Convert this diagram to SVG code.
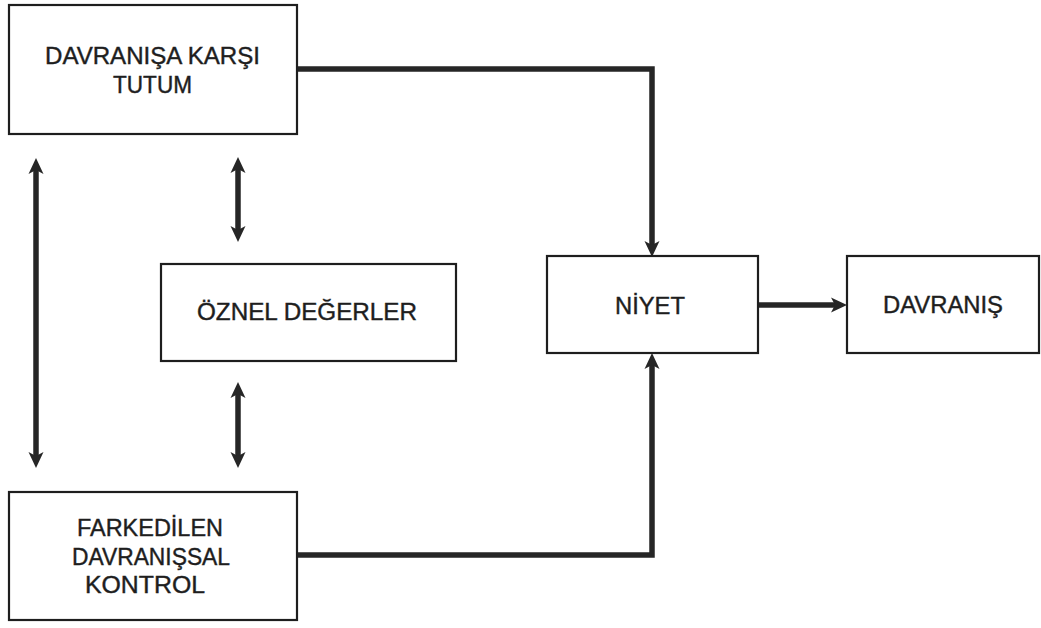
<svg xmlns="http://www.w3.org/2000/svg" width="1041" height="628" viewBox="0 0 1041 628">
<style>
.box{fill:#fff;stroke:#1e1e1e;stroke-width:2.2}
.lbl{font-family:"Liberation Sans",Arial,sans-serif;font-size:23px;fill:#1e1e1e;stroke:#1e1e1e;stroke-width:0.4;text-anchor:middle}
.con{fill:none;stroke:#262626;stroke-width:5.5;stroke-linejoin:miter}
</style>
<defs>
<marker id="ah" markerUnits="userSpaceOnUse" markerWidth="20" markerHeight="18" viewBox="0 -9 20 18" refX="4" refY="0" orient="auto-start-reverse">
<path d="M0,-7.5 L16,0 L0,7.5 L4,0 Z" fill="#262626"/>
</marker>
</defs>
<rect width="1041" height="628" fill="#fff"/>
<g id="connectors">
<path class="con" d="M297,69 H652 V245" marker-end="url(#ah)"/>
<path class="con" d="M297,555 H652 V365" marker-end="url(#ah)"/>
<path class="con" d="M758,305 H835" marker-end="url(#ah)"/>
<path class="con" d="M36,170 V456" marker-start="url(#ah)" marker-end="url(#ah)"/>
<path class="con" d="M238,169 V230" marker-start="url(#ah)" marker-end="url(#ah)"/>
<path class="con" d="M238,394 V456" marker-start="url(#ah)" marker-end="url(#ah)"/>
</g>
<g id="tutum">
<rect class="box" x="9" y="5" width="288" height="129"/>
<text class="lbl" x="152.5" y="64" textLength="215" lengthAdjust="spacingAndGlyphs">DAVRANIŞA KARŞI</text>
<text class="lbl" x="152.5" y="93" textLength="79" lengthAdjust="spacingAndGlyphs">TUTUM</text>
</g>
<g id="oznel">
<rect class="box" x="161" y="264" width="295" height="97"/>
<text class="lbl" x="307" y="320" textLength="220" lengthAdjust="spacingAndGlyphs">ÖZNEL DEĞERLER</text>
</g>
<g id="kontrol">
<rect class="box" x="9" y="492" width="288" height="128"/>
<text class="lbl" x="150" y="536" textLength="146" lengthAdjust="spacingAndGlyphs">FARKEDİLEN</text>
<text class="lbl" x="151" y="565" textLength="158" lengthAdjust="spacingAndGlyphs">DAVRANIŞSAL</text>
<text class="lbl" x="145" y="593" textLength="120" lengthAdjust="spacingAndGlyphs">KONTROL</text>
</g>
<g id="niyet">
<rect class="box" x="547" y="256" width="211" height="97"/>
<text class="lbl" x="650" y="314" textLength="70" lengthAdjust="spacingAndGlyphs">NİYET</text>
</g>
<g id="davranis">
<rect class="box" x="847" y="256" width="192" height="97"/>
<text class="lbl" x="943" y="313" textLength="120" lengthAdjust="spacingAndGlyphs">DAVRANIŞ</text>
</g>
</svg>
